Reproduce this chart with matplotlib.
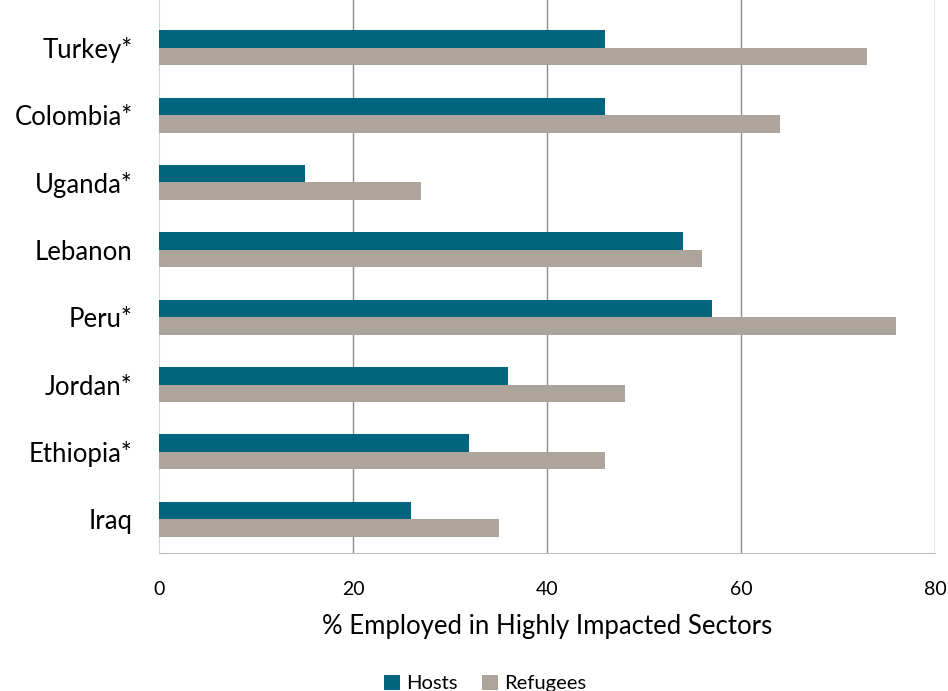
import matplotlib
matplotlib.use("Agg")
import matplotlib.pyplot as plt
import numpy as np

plt.rcParams['font.family'] = ['Lato', 'DejaVu Sans']

countries = ["Turkey*", "Colombia*", "Uganda*", "Lebanon", "Peru*", "Jordan*", "Ethiopia*", "Iraq"]
hosts = [46, 46, 15, 54, 57, 36, 32, 26]
refugees = [73, 64, 27, 56, 76, 48, 46, 35]
xticks = [0, 20, 40, 60, 80]

c_host = "#00657C"
c_ref = "#ADA59C"

fig = plt.figure(figsize=(9.48, 6.91), dpi=100)
ax = fig.add_axes([159/948, 1 - 553/691, (935-159)/948, 553/691])

n = len(countries)
y = np.arange(n)[::-1].astype(float)
h = 0.26
ax.barh(y + h/2, hosts, height=h, color=c_host, label="Hosts", zorder=3)
ax.barh(y - h/2, refugees, height=h, color=c_ref, label="Refugees", zorder=3)

ax.set_xlim(0, 80)
ax.set_ylim(-0.5, n - 0.5 + 14/67.4)
ax.set_yticks(y)
ax.set_yticklabels(countries, fontsize=18.5)
ax.set_xticks(xticks)
ax.set_xticklabels([str(t) for t in xticks], fontsize=14)
ax.tick_params(axis='both', length=0)
ax.tick_params(axis='x', pad=20)
ax.tick_params(axis='y', pad=19)

for t in xticks[1:]:
    ax.axvline(t, color="#8c8c8c", lw=1.0, zorder=1)

for s in ["top", "right"]:
    ax.spines[s].set_visible(False)
ax.spines["left"].set_color("#d9d9d9")
ax.spines["bottom"].set_color("#bfbfbf")

ax.set_xlabel("% Employed in Highly Impacted Sectors", fontsize=18.5, labelpad=12)

fig.legend(loc="lower center", bbox_to_anchor=(485/948, -0.028), ncol=2, frameon=False,
           fontsize=14.5, handlelength=0.8, handleheight=0.8, columnspacing=1.2, handletextpad=0.3)

fig.savefig("out.png", dpi=100)
